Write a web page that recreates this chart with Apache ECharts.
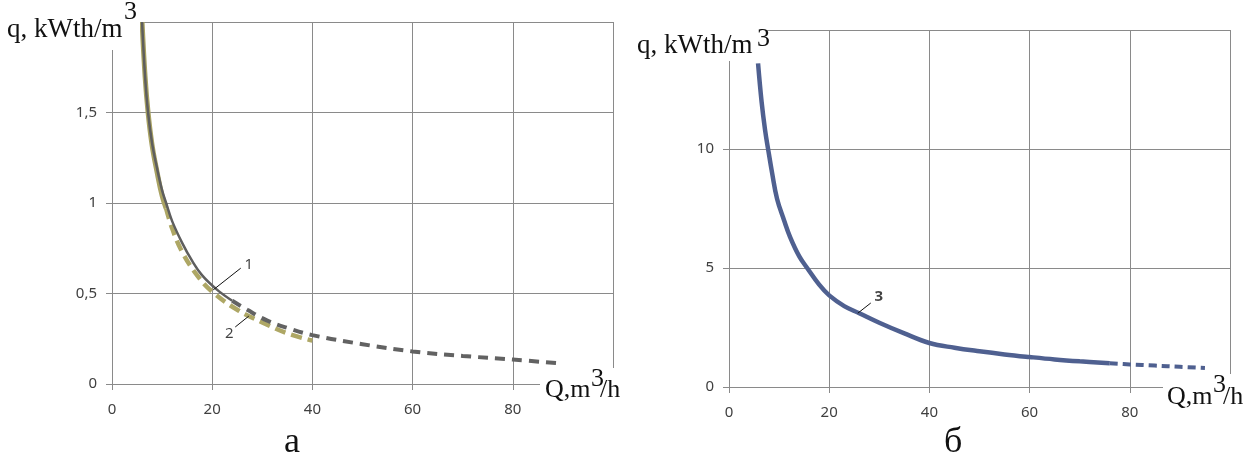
<!DOCTYPE html>
<html>
<head>
<meta charset="utf-8">
<script src="https://cdn.jsdelivr.net/npm/echarts@6/dist/echarts.min.js"></script>
<style>
  html, body { margin: 0; padding: 0; background: #fff; }
  #chart { width: 1249px; height: 468px; }
</style>
</head>
<body>
<div id="chart"></div>
<script>
// --- data ---
// chart a: curve 1 (solid part, then dashed continuation)
var q1SolidQ = [6, 6.6, 7.2, 8, 9, 10, 10.8, 12, 14, 16, 18, 21, 24]
var q1SolidV = [2.0, 1.7, 1.5, 1.33, 1.19, 1.07, 1.0, 0.9, 0.78, 0.68, 0.6, 0.52, 0.46]
var q1DashQ = [24, 27, 31, 35, 40, 50, 60, 70, 80, 89]
var q1DashV = [0.46, 0.41, 0.35, 0.31, 0.27, 0.22, 0.18, 0.155, 0.135, 0.115]
// chart a: curve 2
var q2SolidQ = [6, 6.6, 7.2, 8, 9, 10, 10.8]
var q2SolidV = [2.0, 1.7, 1.5, 1.32, 1.17, 1.04, 0.97]
var q2DashQ = [10.8, 12, 14, 17, 20, 25, 30, 35, 40]
var q2DashV = [0.97, 0.86, 0.73, 0.6, 0.51, 0.41, 0.34, 0.28, 0.24]
// chart б: curve 3
var q3SolidQ = [5.8, 6.5, 7.2, 7.8, 8.6, 9.6, 11, 12.2, 14, 15.6, 18, 20, 23, 26, 30, 35, 40, 45, 50, 55, 60, 65, 70, 76]
var q3SolidV = [13.6, 12, 10.8, 10, 9, 7.9, 7, 6.3, 5.5, 5, 4.3, 3.85, 3.4, 3.1, 2.7, 2.25, 1.85, 1.65, 1.5, 1.37, 1.26, 1.16, 1.08, 1.0]
var q3DashQ = [76, 80, 85, 90, 95]
var q3DashV = [1.0, 0.95, 0.9, 0.85, 0.8]
// axis ticks
var xTicks = [0, 20, 40, 60, 80]
var yTicksA = [0, 0.5, 1, 1.5]
var yTicksB = [0, 5, 10]
// curve number labels with their leader lines (data units)
var leader1 = [[20.2, 0.52], [25.7, 0.64]]
var leader2 = [[24.6, 0.315], [27.3, 0.375]]
var leader3 = [[25.7, 3.1], [28.3, 3.53]]
var curveLabelsA = [{ name: '1', value: [27.3, 0.66] }, { name: '2', value: [23.4, 0.28] }]
var curveLabelsB = [{ name: '3', value: [29.9, 3.8] }]

function pairs (xs, ys) {
  return xs.map(function (x, i) { return [x, ys[i]] })
}

var gridColor = '#8a8a8a'
var tickFont = { fontFamily: 'Noto Sans', fontSize: 15, color: '#404040' }
var serif = 'Liberation Serif'

function xAxisOf (gridIndex) {
  return {
    type: 'value', gridIndex: gridIndex, min: 0, max: 100, interval: 20,
    axisLine: { show: true, lineStyle: { color: gridColor, width: 1 } },
    axisTick: { show: true, length: 6, lineStyle: { color: gridColor } },
    splitLine: { show: true, lineStyle: { color: gridColor, width: 1 } },
    axisLabel: Object.assign({
      margin: 18,
      formatter: function (v) { return xTicks.indexOf(v) >= 0 ? String(v) : '' }
    }, tickFont)
  }
}

function yAxisOf (gridIndex, max, interval, ticks) {
  return {
    type: 'value', gridIndex: gridIndex, min: 0, max: max, interval: interval,
    axisLine: { show: true, lineStyle: { color: gridColor, width: 1 } },
    axisTick: { show: true, length: 6, lineStyle: { color: gridColor } },
    splitLine: { show: true, lineStyle: { color: gridColor, width: 1 } },
    axisLabel: Object.assign({
      margin: 15,
      formatter: function (v) { return ticks.indexOf(v) >= 0 ? String(v).replace('.', ',') : '' }
    }, tickFont)
  }
}

function curve (idx, data, color, width, dash, z) {
  return {
    type: 'line', xAxisIndex: idx, yAxisIndex: idx, data: data,
    smooth: 0.4, showSymbol: false, silent: true, z: z,
    lineStyle: { color: color, width: width, type: dash || 'solid', cap: 'butt' }
  }
}

function leader (idx, data) {
  return {
    type: 'line', xAxisIndex: idx, yAxisIndex: idx, data: data,
    showSymbol: false, silent: true, z: 5,
    lineStyle: { color: '#111', width: 1 }
  }
}

function numLabels (idx, data, bold) {
  return {
    type: 'scatter', xAxisIndex: idx, yAxisIndex: idx, data: data,
    symbolSize: 1, itemStyle: { color: 'rgba(0,0,0,0)' }, silent: true, z: 6,
    label: {
      show: true, position: 'inside', formatter: '{b}',
      fontFamily: 'Noto Sans', fontSize: 15, color: '#111', fontWeight: bold ? 'bold' : 'normal'
    }
  }
}

function txt (x, y, s, size) {
  return { type: 'text', x: x, y: y, z: 101, style: { text: s, font: size + 'px "' + serif + '"', fill: '#111' } }
}
function cover (x, y, w, h) {
  return { type: 'rect', z: 100, shape: { x: x, y: y, width: w, height: h }, style: { fill: '#fff' } }
}

var chart = echarts.init(document.getElementById('chart'))
chart.setOption({
  animation: false,
  backgroundColor: '#fff',
  grid: [
    { left: 112, top: 22, width: 501, height: 362 },
    { left: 729, top: 30, width: 501, height: 357 }
  ],
  xAxis: [xAxisOf(0), xAxisOf(1)],
  yAxis: [yAxisOf(0, 2, 0.5, yTicksA), yAxisOf(1, 15, 5, yTicksB)],
  series: [
    curve(0, pairs(q2SolidQ, q2SolidV), '#a9a262', 5, 'solid', 2),
    curve(0, pairs(q2DashQ, q2DashV), '#aea765', 4.5, [11, 6], 2),
    curve(0, pairs(q1SolidQ, q1SolidV), '#5e5e5e', 2.5, 'solid', 3),
    curve(0, pairs(q1DashQ, q1DashV), '#626262', 4, [10, 7], 3),
    curve(1, pairs(q3SolidQ, q3SolidV), '#4f6090', 4.5, 'solid', 3),
    curve(1, pairs(q3DashQ, q3DashV), '#4f6090', 4, [8, 5], 3),
    leader(0, leader1),
    leader(0, leader2),
    leader(1, leader3),
    numLabels(0, curveLabelsA, false),
    numLabels(1, curveLabelsB, true)
  ],
  graphic: [
    // boxes of the axis titles hide the grid under them
    cover(0, 0, 140, 50),
    cover(540, 368, 90, 52),
    cover(630, 0, 137, 61),
    cover(1163, 374, 86, 50),
    txt(7, 16, 'q, kWth/m', 27),
    txt(124, -1, '3', 26),
    txt(637, 32, 'q, kWth/m', 27),
    txt(757, 26, '3', 26),
    txt(545, 377, 'Q,m', 26),
    txt(591, 366, '3', 26),
    txt(600, 377, '/h', 26),
    txt(1167, 384, 'Q,m', 26),
    txt(1213, 372, '3', 26),
    txt(1223, 384, '/h', 26),
    txt(284, 425, 'а', 36),
    txt(944, 425, 'б', 36)
  ]
})
</script>
</body>
</html>
